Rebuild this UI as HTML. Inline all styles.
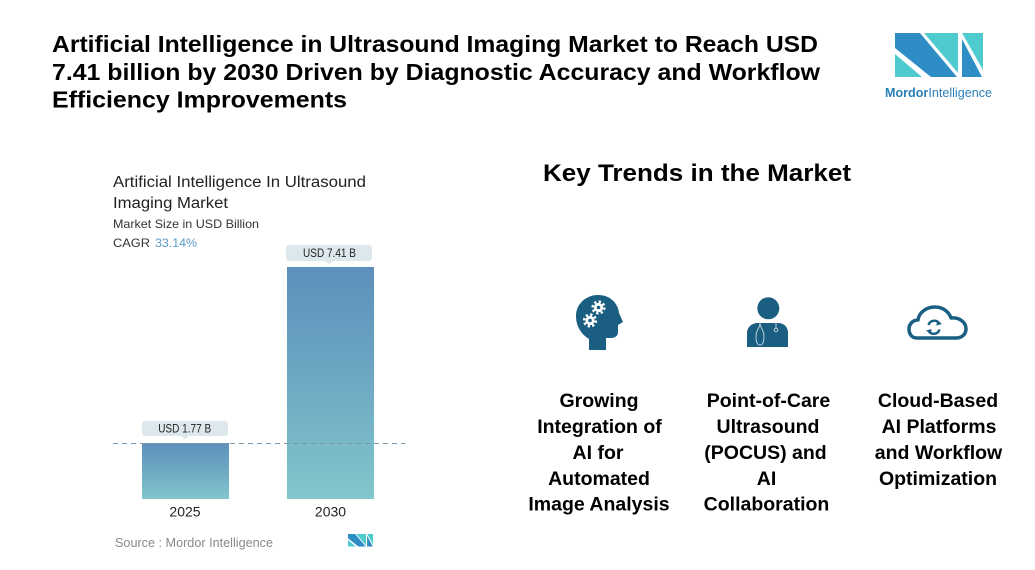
<!DOCTYPE html>
<html>
<head>
<meta charset="utf-8">
<style>
  html,body{margin:0;padding:0;background:#fff;}
  svg{display:block;}
  text{font-family:"Liberation Sans",Arial,sans-serif;}
</style>
</head>
<body>
<svg width="1035" height="570" viewBox="0 0 1035 570" xmlns="http://www.w3.org/2000/svg">
  <defs>
    <linearGradient id="barg" x1="0" y1="0" x2="0" y2="1">
      <stop offset="0" stop-color="#5d90bb"/>
      <stop offset="0.5" stop-color="#6ea9c3"/>
      <stop offset="1" stop-color="#83c6cb"/>
    </linearGradient>
    <g id="mlogo">
      <polygon points="895,33 920,33 957,77 931,77 895,48" fill="#2d8dc4"/>
      <polygon points="895,54 895,77 922,77" fill="#4fcbcf"/>
      <polygon points="924,33 958,33 958,73" fill="#4fcbcf"/>
      <polygon points="962,33 983,33 983,70" fill="#4fcbcf"/>
      <polygon points="962,39 962,77 982,77" fill="#2d8dc4"/>
    </g>
  </defs>

  <rect width="1035" height="570" fill="#fff"/>

  <!-- Title -->
  <g font-weight="bold" font-size="23" fill="#000">
    <text x="52" y="52" textLength="766" lengthAdjust="spacingAndGlyphs">Artificial Intelligence in Ultrasound Imaging Market to Reach USD</text>
    <text x="52" y="80" textLength="768" lengthAdjust="spacingAndGlyphs">7.41 billion by 2030 Driven by Diagnostic Accuracy and Workflow</text>
    <text x="52" y="107.5" textLength="295" lengthAdjust="spacingAndGlyphs">Efficiency Improvements</text>
  </g>

  <!-- Logo -->
  <use href="#mlogo"/>
  <text x="885" y="97" font-size="13" fill="#2b7fb6" textLength="107" lengthAdjust="spacingAndGlyphs"><tspan font-weight="bold">Mordor</tspan><tspan>Intelligence</tspan></text>

  <!-- Chart header -->
  <text x="113" y="187" font-size="15.5" fill="#222" textLength="253" lengthAdjust="spacingAndGlyphs">Artificial Intelligence In Ultrasound</text>
  <text x="113" y="208" font-size="15.5" fill="#222" textLength="115" lengthAdjust="spacingAndGlyphs">Imaging Market</text>
  <text x="113" y="228" font-size="12" fill="#333" textLength="146" lengthAdjust="spacingAndGlyphs">Market Size in USD Billion</text>
  <text x="113" y="247" font-size="12" fill="#333" textLength="37" lengthAdjust="spacingAndGlyphs">CAGR</text>
  <text x="155" y="247" font-size="12" fill="#5a9ac5" textLength="42" lengthAdjust="spacingAndGlyphs">33.14%</text>

  <!-- Bars -->
  <rect x="287" y="267" width="87" height="232" fill="url(#barg)"/>
  <rect x="142" y="443" width="87" height="56" fill="url(#barg)"/>

  <!-- dashed line -->
  <line x1="113" y1="443.5" x2="405" y2="443.5" stroke="#7a98ab" stroke-width="1" stroke-dasharray="5,4"/>

  <!-- value labels -->
  <rect x="286" y="245" width="86" height="16" rx="3" fill="#dde8ec"/>
  <polygon points="325,261 333,261 329,264" fill="#dde8ec"/>
  <text x="329.5" y="256.8" font-size="11.5" fill="#222" text-anchor="middle" textLength="53" lengthAdjust="spacingAndGlyphs">USD 7.41 B</text>

  <rect x="142" y="421" width="86" height="15" rx="3" fill="#dde8ec"/>
  <polygon points="181,436 189,436 185,439" fill="#dde8ec"/>
  <text x="184.7" y="432.7" font-size="11.5" fill="#222" text-anchor="middle" textLength="53" lengthAdjust="spacingAndGlyphs">USD 1.77 B</text>

  <!-- years -->
  <text x="185" y="516.7" font-size="14" fill="#222" text-anchor="middle">2025</text>
  <text x="330.5" y="516.7" font-size="14" fill="#222" text-anchor="middle">2030</text>

  <!-- source -->
  <text x="115" y="547" font-size="13" fill="#8a8a8a" textLength="158" lengthAdjust="spacingAndGlyphs">Source :  Mordor Intelligence</text>
  <g transform="translate(348,534) scale(0.285) translate(-895,-33)">
    <use href="#mlogo"/>
  </g>

  <!-- Key trends heading -->
  <text x="543" y="181" font-size="24" font-weight="bold" fill="#000" textLength="308" lengthAdjust="spacingAndGlyphs">Key Trends in the Market</text>

  <!-- Icon 1: head with gears -->
  <g fill="#1a5e82">
    <path d="M589,350 L589,339 C581,334 576,326 576,316 C576,304 586,295 598,295 C610,295 618,303 619,313 L623,322 L618,325 L618,332 C618,336 615,338 611,338 L606,338 L606,350 Z"/>
  </g>
  <g>
    <circle cx="598.5" cy="307.5" r="4.6" fill="#fff"/>
    <circle cx="598.5" cy="307.5" r="5.8" fill="none" stroke="#fff" stroke-width="2.6" stroke-dasharray="2.3,2.25"/>
    <circle cx="598.5" cy="307.5" r="1.8" fill="#1a5e82"/>
    <circle cx="590" cy="320.5" r="4.6" fill="#fff"/>
    <circle cx="590" cy="320.5" r="5.8" fill="none" stroke="#fff" stroke-width="2.6" stroke-dasharray="2.3,2.25"/>
    <circle cx="590" cy="320.5" r="1.8" fill="#1a5e82"/>
  </g>

  <!-- Icon 2: doctor -->
  <g fill="#1a5e82">
    <circle cx="768.3" cy="308.3" r="11"/>
    <path d="M747,347 L747,333 C747,327 752,323 758,323 L778,323 C784,323 788,327 788,333 L788,347 Z"/>
  </g>
  <g fill="none" stroke="#b9d0dc" stroke-width="1">
    <path d="M760,323 C760,328 756,330 756,336 C756,343 758,345 760,345"/>
    <path d="M760,323 C760,328 764,330 764,336 C764,343 762,345 760,345"/>
    <path d="M776,323 L776,328"/>
    <circle cx="776" cy="330" r="1.8"/>
  </g>

  <!-- Icon 3: cloud -->
  <path d="M917,338 C911,338 909,333 909,329 C909,324 913,320 918,320 C919,312 927,307 935,307 C943,307 949,312 951,318 C959,317 966,322 966,329 C966,334 962,338 956,338 Z" fill="none" stroke="#1a5e82" stroke-width="3.5" stroke-linejoin="round"/>
  <g fill="none" stroke="#1a5e82" stroke-width="2.4">
    <path d="M928.5,325 A6,6 0 0 1 939,323"/>
    <path d="M939.5,329.5 A6,6 0 0 1 929,331.5"/>
  </g>
  <polygon points="937,320 942,324 936.5,325.5" fill="#1a5e82"/>
  <polygon points="931,334.5 926,330.5 931.5,329" fill="#1a5e82"/>

  <!-- Trend texts -->
  <g font-size="19.5" font-weight="bold" fill="#000" text-anchor="middle">
    <text x="599" y="407">Growing</text>
    <text x="599.5" y="433">Integration of</text>
    <text x="598" y="459">AI for</text>
    <text x="599" y="485">Automated</text>
    <text x="599" y="510.5">Image Analysis</text>

    <text x="768.5" y="407">Point-of-Care</text>
    <text x="768" y="433">Ultrasound</text>
    <text x="765.5" y="459">(POCUS) and</text>
    <text x="766.5" y="485">AI</text>
    <text x="766.5" y="510.5">Collaboration</text>

    <text x="938" y="407">Cloud-Based</text>
    <text x="939" y="433">AI Platforms</text>
    <text x="938.5" y="459">and Workflow</text>
    <text x="938" y="485">Optimization</text>
  </g>
</svg>
</body>
</html>
